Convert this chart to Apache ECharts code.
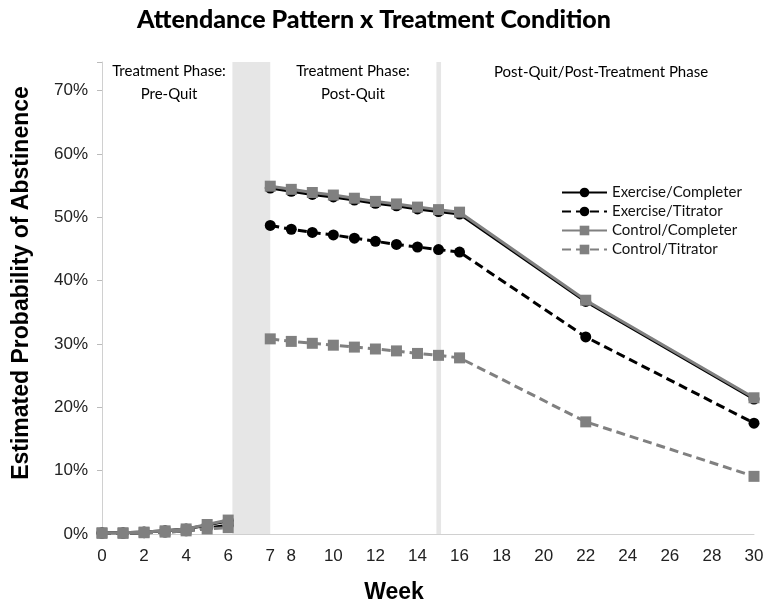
<!DOCTYPE html>
<html>
<head>
<meta charset="utf-8">
<script src="https://cdn.jsdelivr.net/npm/echarts@6/dist/echarts.min.js"></script>
<style>
  html, body { margin: 0; padding: 0; background: #fff; }
  #chart { width: 771px; height: 610px; }
</style>
</head>
<body>
<div id="chart"></div>
<script>
// weeks measured; the 6 -> 7 step takes two axis units (targeted quit week band)
var weeks = [0, 1, 2, 3, 4, 5, 6, 7, 8, 9, 10, 11, 12, 13, 14, 15, 16, 22, 30];
var exerciseCompleter = [0.2, 0.2, 0.3, 0.5, 0.8, 1.4, 2.1, 54.6, 54.1, 53.6, 53.2, 52.7, 52.2, 51.8, 51.3, 50.9, 50.5, 36.7, 21.3];
var exerciseTitrator  = [0.1, 0.1, 0.2, 0.3, 0.5, 0.9, 1.4, 48.7, 48.1, 47.6, 47.2, 46.7, 46.2, 45.7, 45.3, 44.9, 44.5, 31.1, 17.5];
var controlCompleter  = [0.2, 0.2, 0.3, 0.5, 0.8, 1.5, 2.2, 54.9, 54.4, 53.9, 53.5, 53.0, 52.5, 52.1, 51.6, 51.2, 50.8, 36.9, 21.5];
var controlTitrator   = [0.1, 0.1, 0.2, 0.3, 0.5, 0.8, 1.0, 30.8, 30.4, 30.1, 29.8, 29.5, 29.2, 28.9, 28.5, 28.2, 27.8, 17.7, 9.1];
var tickWeeks = [0, 2, 4, 6, 7, 8, 10, 12, 14, 16, 18, 20, 22, 24, 26, 28, 30];

// position on the axis for a given week
function pos(w) { return w <= 6 ? w : w + 1; }
// pre-quit and post-quit segments are not joined
function pairs(vals) {
  var out = [];
  weeks.forEach(function (w, i) {
    if (w === 7) out.push([pos(6) + 1, '-']);
    out.push([pos(w), vals[i]]);
  });
  return out;
}

var tickLabels = {};
tickWeeks.forEach(function (w) { tickLabels[pos(w)] = String(w); });

var GRAY = '#808080';
var font = 'Lato, "Open Sans", sans-serif';

var chart = echarts.init(document.getElementById('chart'));

chart.setOption({
  animation: false,
  backgroundColor: '#fff',
  grid: { left: 102, right: 17, top: 62, bottom: 76 },
  legend: {
    orient: 'vertical',
    left: 556,
    top: 180,
    itemWidth: 45,
    itemHeight: 12,
    itemGap: 4,
    textStyle: { fontFamily: font, fontSize: 15, color: '#111' },
    data: ['Exercise/Completer', 'Exercise/Titrator', 'Control/Completer', 'Control/Titrator']
  },
  xAxis: {
    type: 'value',
    min: 0,
    max: 31,
    interval: 1,
    splitLine: { show: false },
    axisTick: { show: false },
    axisLine: { lineStyle: { color: '#d0d0d0', width: 1 } },
    axisLabel: {
      color: '#222',
      fontFamily: 'Liberation Sans, Arial, sans-serif',
      fontSize: 17,
      margin: 14,
      formatter: function (v) { return tickLabels[v] !== undefined ? tickLabels[v] : ''; }
    }
  },
  yAxis: {
    type: 'value',
    min: 0,
    max: 74.5,
    interval: 10,
    splitLine: { show: false },
    axisLine: { show: true, lineStyle: { color: '#d0d0d0', width: 1 } },
    axisTick: { show: true, length: 5, lineStyle: { color: '#bbb' } },
    axisLabel: {
      color: '#222',
      fontFamily: 'Liberation Sans, Arial, sans-serif',
      fontSize: 17,
      margin: 14,
      formatter: function (v) { return v % 10 === 0 ? v + '%' : ''; }
    }
  },
  graphic: [
    {
      type: 'text', x: 374, y: 20,
      style: { text: 'Attendance Pattern x Treatment Condition', font: '900 25px ' + font, fill: '#000', align: 'center', verticalAlign: 'middle' }
    },
    {
      type: 'text', x: 22, y: 283, rotation: Math.PI / 2,
      style: { text: 'Estimated Probability of Abstinence', font: 'bold 23px "Liberation Sans", Arial, sans-serif', fill: '#000', align: 'center', verticalAlign: 'middle' }
    },
    {
      type: 'text', x: 394, y: 593,
      style: { text: 'Week', font: 'bold 23px "Liberation Sans", Arial, sans-serif', fill: '#000', align: 'center', verticalAlign: 'middle' }
    },
    {
      type: 'text', x: 169, y: 83,
      style: { text: 'Treatment Phase:\nPre-Quit', font: '15px ' + font, lineHeight: 23, fill: '#000', align: 'center', verticalAlign: 'middle' }
    },
    {
      type: 'text', x: 353, y: 83,
      style: { text: 'Treatment Phase:\nPost-Quit', font: '15px ' + font, lineHeight: 23, fill: '#000', align: 'center', verticalAlign: 'middle' }
    },
    {
      type: 'text', x: 601, y: 72,
      style: { text: 'Post-Quit/Post-Treatment Phase', font: '15px ' + font, fill: '#000', align: 'center', verticalAlign: 'middle' }
    },
    {
      type: 'text', x: 253, y: 248, rotation: Math.PI / 2,
      style: { text: 'Targeted Quit Week', font: '15px ' + font, fill: '#000', align: 'center', verticalAlign: 'middle' }
    }
  ],
  series: [
    {
      name: 'Exercise/Completer',
      type: 'line',
      data: pairs(exerciseCompleter),
      symbol: 'circle',
      symbolSize: 11,
      itemStyle: { color: '#000' },
      lineStyle: { color: '#000', width: 3 },
      markArea: {
        silent: true,
        itemStyle: { color: '#e6e6e6' },
        data: [
          [{ xAxis: 6.2 }, { xAxis: 8 }],
          [{ xAxis: 15.9 }, { xAxis: 16.12 }]
        ]
      },
      z: 3
    },
    {
      name: 'Exercise/Titrator',
      type: 'line',
      data: pairs(exerciseTitrator),
      symbol: 'circle',
      symbolSize: 11,
      itemStyle: { color: '#000' },
      lineStyle: { color: '#000', width: 3, type: [9, 5] },
      z: 3
    },
    {
      name: 'Control/Completer',
      type: 'line',
      data: pairs(controlCompleter),
      symbol: 'rect',
      symbolSize: 11,
      itemStyle: { color: GRAY },
      lineStyle: { color: GRAY, width: 3 },
      z: 4
    },
    {
      name: 'Control/Titrator',
      type: 'line',
      data: pairs(controlTitrator),
      symbol: 'rect',
      symbolSize: 11,
      itemStyle: { color: GRAY },
      lineStyle: { color: GRAY, width: 3, type: [9, 5] },
      z: 4
    }
  ]
});
</script>
</body>
</html>
